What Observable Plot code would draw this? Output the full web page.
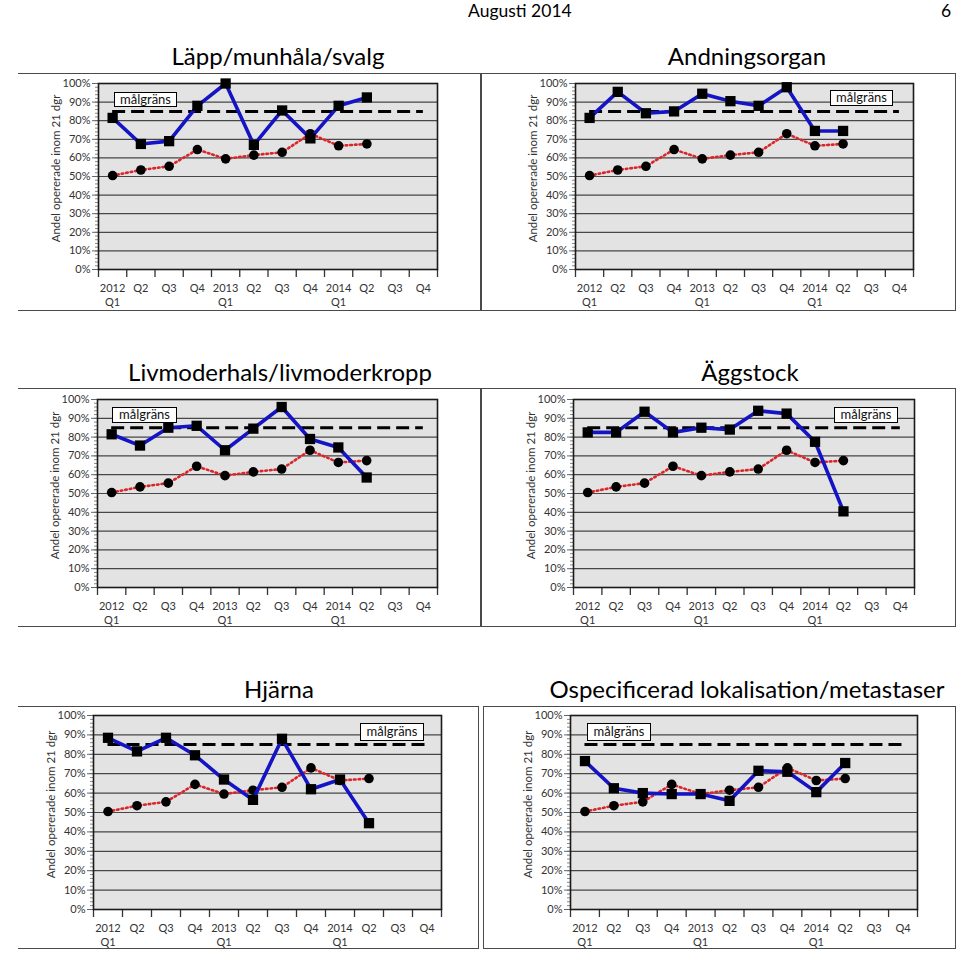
<!DOCTYPE html>
<html><head><meta charset="utf-8">
<script src="https://cdn.jsdelivr.net/npm/d3@7"></script>
<script src="https://cdn.jsdelivr.net/npm/@observablehq/plot@0.6"></script>
<style>
body{margin:0;background:#fff;font-family:Lato,"Liberation Sans",sans-serif;}
#page{position:relative;width:960px;height:953px;overflow:hidden;background:#fff;}
.box{position:absolute;border:1.5px solid #4a4a4a;box-sizing:border-box;}
.title{position:absolute;font-size:24px;line-height:24px;color:#000;transform:translateX(-50%);white-space:nowrap;}
.hdr{position:absolute;font-size:17.5px;line-height:19px;color:#000;white-space:nowrap;}
.chart{position:absolute;}
.mal{position:absolute;border:1.3px solid #000;background:#fff;font-size:13px;text-align:center;box-sizing:border-box;color:#111;}
</style></head>
<body><div id="page"></div>
<script>
// ---- data ----
const quarters = ["2012 Q1","2012 Q2","2012 Q3","2012 Q4","2013 Q1","2013 Q2","2013 Q3","2013 Q4","2014 Q1","2014 Q2","2014 Q3","2014 Q4"];
const tickLabels = ["2012\nQ1","Q2","Q3","Q4","2013\nQ1","Q2","Q3","Q4","2014\nQ1","Q2","Q3","Q4"];
const yTicks = [0,10,20,30,40,50,60,70,80,90,100];
const malgrans = 85;
const samtliga = [50.5,53.5,55.5,64.5,59.5,61.5,63,73,66.5,67.5];
const lapp     = [81.5,67.5,69,88,100,67,85.5,70.5,88,92.5];
const andning  = [81.5,95.5,84,85,94.5,90.5,88,98,74.5,74.5];
const livmoder = [81.5,75.5,85,86,73,84.5,96,79,74.5,58.5];
const aggstock = [82.5,82.5,93.5,82.5,85,84,94,92.5,77.5,40.5];
const hjarna   = [88.5,81.5,88.5,79.5,67,56.5,88,62,67,44.5];
const ospec    = [76.5,62.5,60,59.5,59.5,56,71.5,71,60.5,75.5];
const titles = ["Läpp/munhåla/svalg","Andningsorgan","Livmoderhals/livmoderkropp","Äggstock","Hjärna","Ospecificerad lokalisation/metastaser"];
const seriesList = [lapp, andning, livmoder, aggstock, hjarna, ospec];

// ---- layout (frame of each plot in page pixels) ----
const layout = [
  {fl:98, fr:437, ft:83, fb:269, box:[18,73,463,238,"left"], tx:278, ty:44, mal:[114,92,63,15]},
  {fl:575, fr:913, ft:83, fb:269, box:[481,73,475,238,"full"], tx:747, ty:44, mal:[830,90,63,16]},
  {fl:97, fr:437, ft:399, fb:587, box:[18,388,463,239,"left"], tx:280, ty:360, mal:[112,407,65,16]},
  {fl:573, fr:914, ft:399, fb:587, box:[481,388,475,239,"full"], tx:750, ty:360, mal:[834,407,64,16]},
  {fl:93, fr:441, ft:715, fb:909, box:[18,706,461,243,"left"], tx:279, ty:677, mal:[360,723,64,18]},
  {fl:570, fr:917, ft:715, fb:909, box:[483,706,473,243,"full"], tx:747, ty:677, mal:[587,723,64,18]}
];

const page = document.getElementById("page");
function addDiv(cls, css, text) {
  const d = document.createElement("div");
  d.className = cls;
  Object.assign(d.style, css);
  if (text != null) d.textContent = text;
  page.appendChild(d);
  return d;
}

addDiv("hdr", {left:"468px", top:"1px"}, "Augusti 2014");
addDiv("hdr", {left:"941px", top:"1px"}, "6");

function makeChart(series, L) {
  const mL = 80, mR = 14, mT = 14, mB = 42;
  const w = L.fr - L.fl + mL + mR, h = L.fb - L.ft + mT + mB;
  const blue = series.map((v, i) => ({i: i + 0.5, v}));
  const red = samtliga.map((v, i) => ({i: i + 0.5, v}));
  const n = quarters.length;
  return Plot.plot({
    width: w, height: h, marginLeft: mL, marginRight: mR, marginTop: mT, marginBottom: mB,
    style: {fontFamily: "Lato, 'Liberation Sans', sans-serif", fontSize: "11px", color: "#333", background: "transparent", overflow: "visible"},
    x: {domain: [0, n], axis: null},
    y: {domain: [0, 100], axis: null},
    marks: [
      Plot.frame({fill: "#e3e3e3", stroke: null}),
      Plot.ruleY(yTicks.filter(t => t > 0 && t < 100), {stroke: "#474747", strokeWidth: 1.2}),
      Plot.axisY({ticks: d3.range(0, 101, 2), tickSize: 3, tickFormat: () => "", stroke: "#888", label: null}),
      Plot.axisY({ticks: yTicks, tickFormat: d => d + "%", tickSize: 6, tickPadding: 2, stroke: "#666", fill: "#333", fontSize: 11, label: null}),
      Plot.axisX({ticks: d3.range(0, n + 1), tickSize: 8, tickFormat: () => "", stroke: "#333", strokeWidth: 1.3, label: null}),
      Plot.text(tickLabels, {x: (d, i) => i + 0.5, frameAnchor: "bottom", dy: 12, lineAnchor: "top", lineHeight: 1.3, fontSize: 11, fill: "#333"}),
      Plot.text(["Andel opererade inom 21 dgr"], {frameAnchor: "left", textAnchor: "middle", rotate: -90, dx: -42, dy: -8, fontSize: 11.5, fill: "#333"}),
      Plot.frame({stroke: "#1a1a1a", strokeWidth: 1.6}),
      Plot.ruleY([malgrans], {x1: 0.5, x2: n - 0.5, stroke: "#000", strokeWidth: 3, strokeDasharray: "13,6"}),
      Plot.line(red, {x: "i", y: "v", stroke: "#d8262b", strokeWidth: 2.6, strokeDasharray: "1.6,3"}),
      Plot.dot(red, {x: "i", y: "v", r: 4.8, fill: "#000", stroke: null}),
      Plot.line(blue, {x: "i", y: "v", stroke: "#1414c4", strokeWidth: 3.6}),
      Plot.dot(blue, {x: "i", y: "v", symbol: "square", r: 5.8, fill: "#000", stroke: null})
    ]
  });
}

layout.forEach((L, k) => {
  const [bx, by, bw, bh, kind] = L.box;
  const b = addDiv("box", {left: bx + "px", top: by + "px", width: bw + "px", height: bh + "px"});
  if (kind === "left") b.style.borderLeft = "none";
  addDiv("title", {left: L.tx + "px", top: L.ty + "px"}, titles[k]);
  const svg = makeChart(seriesList[k], L);
  const c = addDiv("chart", {left: (L.fl - 80) + "px", top: (L.ft - 14) + "px"});
  c.appendChild(svg);
  const [mx, my, mw, mh] = L.mal;
  addDiv("mal", {left: mx + "px", top: my + "px", width: mw + "px", height: mh + "px", lineHeight: (mh - 3) + "px"}, "målgräns");
});
</script>
</body></html>
